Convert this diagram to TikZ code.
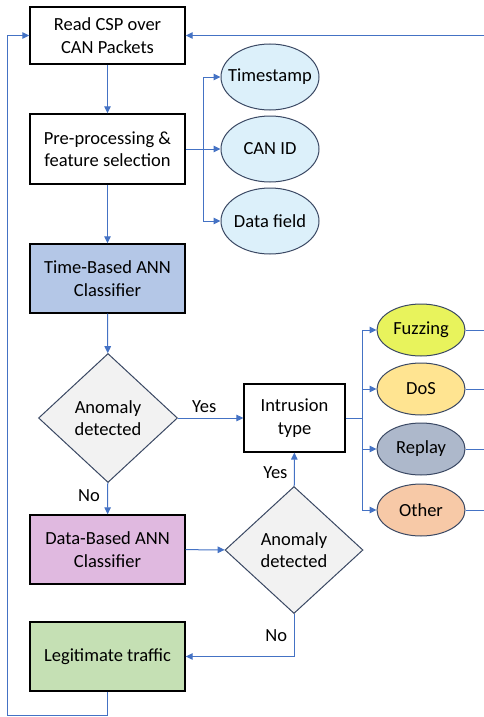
\documentclass[tikz,border=0pt]{standalone}
\usepackage{fontspec}
\setmainfont{Carlito}
\usetikzlibrary{shapes.geometric,arrows.meta,positioning,calc}

\definecolor{lineblue}{HTML}{4472C4}
\definecolor{edgegray}{HTML}{3A4863}
\definecolor{featfill}{HTML}{DCF0FA}
\definecolor{timefill}{HTML}{B4C7E7}
\definecolor{datafill}{HTML}{E0B9E0}
\definecolor{legitfill}{HTML}{C5E0B4}
\definecolor{decfill}{HTML}{F2F2F2}
\definecolor{fuzzfill}{HTML}{E8F35C}
\definecolor{dosfill}{HTML}{FFE491}
\definecolor{replayfill}{HTML}{ADB8CB}
\definecolor{otherfill}{HTML}{F7C9A7}

\tikzset{
  procbox/.style={draw=black, line width=1.4pt, minimum width=155pt, minimum height=69pt, align=center, inner sep=0pt},
  decision/.style={diamond, draw=edgegray, line width=1pt, fill=decfill, minimum width=139pt, minimum height=129pt, align=center, inner sep=0pt},
  feature/.style={ellipse, draw=edgegray, line width=1pt, fill=featfill, minimum width=98pt, minimum height=66pt, inner xsep=-14pt, inner ysep=0pt},
  attack/.style={ellipse, draw=edgegray, line width=1pt, minimum width=88pt, minimum height=52pt, inner xsep=-8pt, inner ysep=0pt},
  flow/.style={draw=lineblue, line width=1pt, -{Triangle[length=7pt,width=6.5pt]}},
  link/.style={draw=lineblue, line width=1pt},
  answer/.style={font=\fontsize{18.5}{22}\selectfont}
}

\begin{document}
\begin{tikzpicture}[x=1pt, y=-1pt, font=\fontsize{18.5}{22.5}\selectfont]
\useasboundingbox (0,0) rectangle (484,717);

% main column
\node[procbox, minimum height=57pt] (read) at (107.5,35.5) {Read CSP over\\CAN Packets};
\node[procbox, minimum height=70pt] (prep) at (107.5,149) {Pre-processing \&\\feature selection};
\node[procbox, fill=timefill] (tann) at (107.5,278.5) {Time-Based ANN\\Classifier};
\node[decision] (dec1) at (108,418) {Anomaly\\detected};
\node[procbox, fill=datafill] (dann) at (107.5,549.5) {Data-Based ANN\\Classifier};
\node[procbox, fill=legitfill] (legit) at (107.5,656.5) {Legitimate traffic};

% second decision and intrusion type
\node[decision, minimum width=138pt, minimum height=127pt] (dec2) at (294,550) {Anomaly\\detected};
\node[procbox, line width=1.2pt, minimum width=101pt, minimum height=68pt] (intr) at (294.5,418) {Intrusion\\type};

% features
\node[feature] (ts) at (270,77) {Timestamp};
\node[feature] (canid) at (270,149) {CAN ID};
\node[feature] (dfield) at (270,221) {Data field};

% attack classes
\node[attack, fill=fuzzfill] (fuzz) at (421,330) {Fuzzing};
\node[attack, fill=dosfill] (dos) at (421,389) {DoS};
\node[attack, fill=replayfill] (replay) at (421,449) {Replay};
\node[attack, fill=otherfill] (other) at (421,510) {Other};

% helper points
\coordinate (featbr) at (203,149);
\coordinate (intrbr) at (362,418);
\coordinate (loopl) at (7,715);
\coordinate (rin) at (484,35.5);

% connectors
\draw[flow] (read) -- (prep);
\draw[flow] (prep) -- (tann);
\draw[flow] (tann) -- (dec1);
\draw[flow] (dec1) -- node[answer, above=2pt, pos=0.4] {Yes} (intr);
\draw[flow] (dec1) -- node[answer, left=4pt, pos=0.4] {No} (dann);
\draw[flow] (dann) -- (dec2);
\draw[flow] (dec2) -- node[answer, left=3pt, pos=0.4] {Yes} (intr);
\draw[flow] (dec2.south) |- node[answer, left=3pt, pos=0.25] {No} (legit.east);
\draw[flow] (legit.south) |- (loopl) |- (read.west);
\draw[flow] (rin) -- (read.east);

\draw[flow] (prep.east) -- (canid.west);
\draw[flow] (featbr) |- (ts.west);
\draw[flow] (featbr) |- (dfield.west);

\draw[link] (intr.east) -- (intrbr);
\foreach \k in {fuzz,dos,replay,other}{
  \draw[flow] (intrbr) |- (\k.west);
  \draw[link] (\k.east) -- (\k.east -| rin);
}

\end{tikzpicture}
\end{document}
